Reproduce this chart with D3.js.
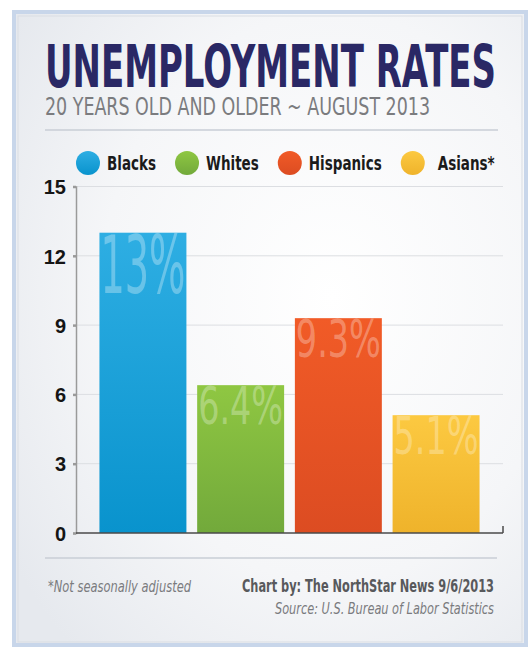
<!DOCTYPE html>
<html>
<head>
<meta charset="utf-8">
<script src="https://cdn.jsdelivr.net/npm/d3@7"></script>
<style>
  body { margin: 0; background: #fff; }
  svg { display: block; }
</style>
</head>
<body>
<script>
// data
var categories = ["Blacks", "Whites", "Hispanics", "Asians*"];
var rates = [13, 6.4, 9.3, 5.1];
var rateLabels = ["13%", "6.4%", "9.3%", "5.1%"];
var yTicks = [0, 3, 6, 9, 12, 15];

// colours for each group: [top, bottom]
var barColors = [["#2eaee3", "#0993cd"], ["#8fc742", "#72a93b"], ["#f15b27", "#dc4c22"], ["#fcc941", "#efb32b"]];

var width = 530, height = 648;
var narrow = "'Liberation Sans Narrow', 'DejaVu Sans Condensed', 'DejaVu Sans', sans-serif";

var svg = d3.select("body").append("svg")
    .attr("width", width)
    .attr("height", height);

var defs = svg.append("defs");

// background panel
var bg = defs.append("radialGradient").attr("id", "bg")
    .attr("cx", "62%").attr("cy", "45%").attr("r", "75%");
bg.append("stop").attr("offset", "0%").attr("stop-color", "#ffffff");
bg.append("stop").attr("offset", "60%").attr("stop-color", "#f5f6f8");
bg.append("stop").attr("offset", "100%").attr("stop-color", "#e6e9ee");

svg.append("rect")
    .attr("x", 14).attr("y", 12)
    .attr("width", 512).attr("height", 633)
    .attr("fill", "url(#bg)")
    .attr("stroke", "#c8d6ea")
    .attr("stroke-width", 4);
svg.append("rect")
    .attr("x", 18).attr("y", 16)
    .attr("width", 504).attr("height", 626)
    .attr("fill", "none")
    .attr("stroke", "#d9dde3")
    .attr("stroke-width", 1);

// title
svg.append("text")
    .attr("x", 45).attr("y", 87)
    .attr("textLength", 451).attr("lengthAdjust", "spacingAndGlyphs")
    .style("font-family", narrow).style("font-weight", "bold")
    .style("font-size", "59px").style("fill", "#2a2865")
    .text("UNEMPLOYMENT RATES");

svg.append("text")
    .attr("x", 45).attr("y", 115)
    .attr("textLength", 385).attr("lengthAdjust", "spacingAndGlyphs")
    .style("font-family", narrow)
    .style("font-size", "24px").style("fill", "#7b7c7f")
    .text("20 YEARS OLD AND OLDER ~ AUGUST 2013");

svg.append("line")
    .attr("x1", 45).attr("x2", 498).attr("y1", 130).attr("y2", 130)
    .attr("stroke", "#c9ced6").attr("stroke-width", 1.5);

// legend
var legend = svg.append("g");
var lx = 88;
categories.forEach(function(c, i) {
    var g = defs.append("linearGradient").attr("id", "leg" + i)
        .attr("x1", 0).attr("y1", 0).attr("x2", 0).attr("y2", 1);
    g.append("stop").attr("offset", "0%").attr("stop-color", barColors[i][0]);
    g.append("stop").attr("offset", "100%").attr("stop-color", barColors[i][1]);
    legend.append("circle")
        .attr("cx", lx).attr("cy", 163).attr("r", 12)
        .attr("fill", "url(#leg" + i + ")");
    var off = i == 3 ? 25 : 19;
    var t = legend.append("text")
        .attr("x", lx + off).attr("y", 170)
        .style("font-family", narrow).style("font-weight", "bold")
        .style("font-size", "20px").style("fill", "#1b1b1b")
        .text(c);
    // squeeze to a condensed look
    var w = t.node().getComputedTextLength() * 0.75;
    t.attr("textLength", w).attr("lengthAdjust", "spacingAndGlyphs");
    lx = lx + off + w + 31;
});

// scales
var x = d3.scaleBand()
    .domain(categories)
    .range([76, 503])
    .paddingInner(0.11)
    .paddingOuter(0.24);

var y = d3.scaleLinear()
    .domain([0, 15])
    .range([533, 186.5]);

// grid lines
svg.append("g")
    .selectAll("line")
    .data(yTicks.filter(function(d) { return d > 0; }))
    .join("line")
    .attr("x1", 76).attr("x2", 503)
    .attr("y1", function(d) { return y(d); })
    .attr("y2", function(d) { return y(d); })
    .attr("stroke", "#dcdee2").attr("stroke-width", 1);

// y axis
var yAxis = svg.append("g")
    .attr("transform", "translate(76,0)")
    .call(d3.axisLeft(y).tickValues(yTicks).tickSize(3).tickPadding(7));
yAxis.select(".domain").attr("stroke", "#9a9a9a").attr("stroke-width", 1.5);
yAxis.selectAll(".tick line").attr("stroke", "#9a9a9a").attr("stroke-width", 2.5);
yAxis.selectAll(".tick text")
    .attr("dy", "0.36em")
    .style("font-family", "'Liberation Sans', Arial, sans-serif")
    .style("font-weight", "bold").style("font-size", "20px")
    .style("fill", "#151515");

// bars
rates.forEach(function(v, i) {
    var g = defs.append("linearGradient").attr("id", "bar" + i)
        .attr("x1", 0).attr("y1", 0).attr("x2", 0).attr("y2", 1);
    g.append("stop").attr("offset", "0%").attr("stop-color", barColors[i][0]);
    g.append("stop").attr("offset", "100%").attr("stop-color", barColors[i][1]);
});

var bars = svg.append("g")
    .selectAll("g")
    .data(categories)
    .join("g");

bars.append("rect")
    .attr("x", function(d) { return x(d); })
    .attr("y", function(d, i) { return y(rates[i]); })
    .attr("width", x.bandwidth())
    .attr("height", function(d, i) { return y(0) - y(rates[i]); })
    .attr("fill", function(d, i) { return "url(#bar" + i + ")"; });

// big percentage labels, squeezed to the bar width
bars.append("text")
    .attr("x", function(d) { return x(d) + 1; })
    .attr("y", function(d, i) {
        var cap = rateLabels[i].length <= 3 ? 58 : 37;
        return y(rates[i]) + 2 + cap;
    })
    .attr("textLength", x.bandwidth() - 2)
    .attr("lengthAdjust", "spacingAndGlyphs")
    .style("font-family", narrow)
    .style("font-size", function(d, i) { return (rateLabels[i].length <= 3 ? 58 : 37) / 0.73 + "px"; })
    .style("fill", "#ffffff").style("fill-opacity", 0.3)
    .text(function(d, i) { return rateLabels[i]; });

// x axis base line
svg.append("line")
    .attr("x1", 76).attr("x2", 503).attr("y1", y(0)).attr("y2", y(0))
    .attr("stroke", "#4a4a4a").attr("stroke-width", 1.5);
svg.append("line")
    .attr("x1", 503).attr("x2", 503).attr("y1", y(0) - 7).attr("y2", y(0))
    .attr("stroke", "#4a4a4a").attr("stroke-width", 1.5);

// footer
svg.append("line")
    .attr("x1", 45).attr("x2", 497).attr("y1", 558).attr("y2", 558)
    .attr("stroke", "#c9ced6").attr("stroke-width", 1.5);

svg.append("text")
    .attr("x", 48).attr("y", 592)
    .attr("textLength", 143).attr("lengthAdjust", "spacingAndGlyphs")
    .style("font-family", narrow).style("font-style", "italic")
    .style("font-size", "16px").style("fill", "#7a7b7e")
    .text("*Not seasonally adjusted");

svg.append("text")
    .attr("x", 494).attr("y", 592)
    .attr("text-anchor", "end")
    .attr("textLength", 252).attr("lengthAdjust", "spacingAndGlyphs")
    .style("font-family", narrow).style("font-weight", "bold")
    .style("font-size", "17.5px").style("fill", "#58595c")
    .text("Chart by: The NorthStar News 9/6/2013");

svg.append("text")
    .attr("x", 494).attr("y", 614)
    .attr("text-anchor", "end")
    .attr("textLength", 219).attr("lengthAdjust", "spacingAndGlyphs")
    .style("font-family", narrow).style("font-style", "italic")
    .style("font-size", "16px").style("fill", "#7a7b7e")
    .text("Source: U.S. Bureau of Labor Statistics");
</script>
</body>
</html>
